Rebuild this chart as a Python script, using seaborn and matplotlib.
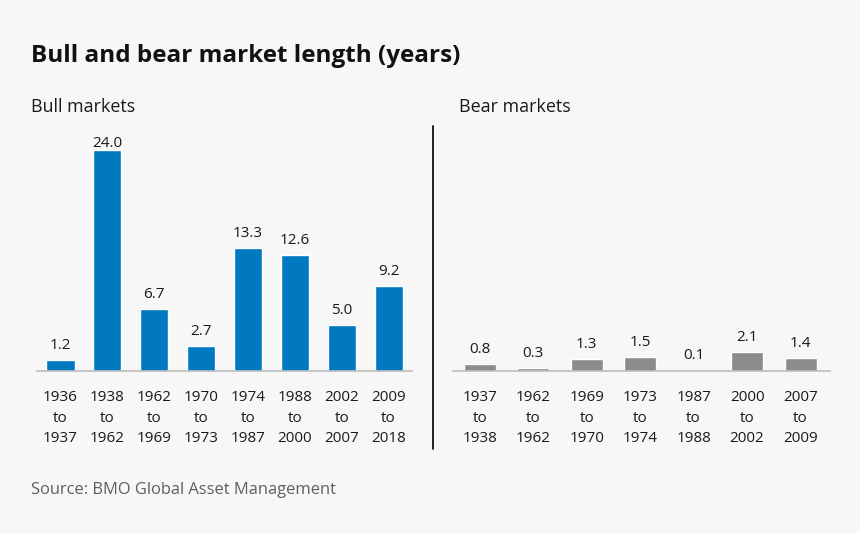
import matplotlib
matplotlib.use('Agg')
import matplotlib.pyplot as plt
import pandas as pd
import seaborn as sns

bull_years = ['1936\nto\n1937', '1938\nto\n1962', '1962\nto\n1969', '1970\nto\n1973',
              '1974\nto\n1987', '1988\nto\n2000', '2002\nto\n2007', '2009\nto\n2018']
bull_values = [1.2, 24.0, 6.7, 2.7, 13.3, 12.6, 5.0, 9.2]
bear_years = ['1937\nto\n1938', '1962\nto\n1962', '1969\nto\n1970', '1973\nto\n1974',
              '1987\nto\n1988', '2000\nto\n2002', '2007\nto\n2009']
bear_values = [0.8, 0.3, 1.3, 1.5, 0.1, 2.1, 1.4]

BG = '#f7f7f7'
TXT = '#1a1a1a'
FONT = 'Open Sans'

sns.set_theme(style='white')
plt.rcParams['font.family'] = FONT

fig = plt.figure(figsize=(8.6, 5.33), dpi=100, facecolor=BG)

# axes placed in figure pixels
def make_axes(x0, x1):
    ax = fig.add_axes([x0 / 860, 1 - 371 / 533, (x1 - x0) / 860, (371 - 126) / 533], facecolor=BG)
    return ax

def draw(ax, years, values, color):
    df = pd.DataFrame({'years': years, 'value': values})
    sns.barplot(data=df, x='years', y='value', color=color, saturation=1, width=0.6, ax=ax)
    ax.set_ylim(0, 26.55)
    ax.set_xlabel('')
    ax.set_ylabel('')
    ax.set_yticks([])
    ax.tick_params(axis='x', length=0, pad=13.5, labelsize=11, labelcolor=TXT)
    for lab in ax.get_xticklabels():
        lab.set_linespacing(1.53)
    sns.despine(ax=ax, left=True)
    ax.spines['bottom'].set_color('#bdbdbd')
    ax.spines['bottom'].set_linewidth(1.2)
    for c in ax.containers:
        labels = ax.bar_label(c, fmt='%.1f', padding=5, fontsize=11, color=TXT)
        # the tallest label sits tight on its bar
        for lab, v in zip(labels, values):
            if v == 24.0:
                lab.xyann = (0, -0.9)

ax1 = make_axes(37, 412)
draw(ax1, bull_years, bull_values, '#0079c1')
ax2 = make_axes(453, 830)
draw(ax2, bear_years, bear_values, '#8c8c8c')
ax2.set_xlim(-0.5, 6.55)

fig.text(31 / 860, 1 - 56 / 533, 'Bull and bear market length (years)', fontsize=17.5,
         fontweight='bold', color='#111111', va='center')
fig.text(31 / 860, 1 - 107 / 533, 'Bull markets', fontsize=12.9, color=TXT, va='center')
fig.text(459 / 860, 1 - 107 / 533, 'Bear markets', fontsize=12.9, color=TXT, va='center')
fig.text(31 / 860, 1 - 490 / 533, 'Source: BMO Global Asset Management', fontsize=11.9,
         color='#5f5f5f', va='center')

# divider between the panels
fig.add_artist(plt.Line2D([433 / 860, 433 / 860], [1 - 126 / 533, 1 - 449 / 533],
                          color='#111111', lw=1.3))

fig.savefig('out.png', dpi=100, facecolor=BG)
